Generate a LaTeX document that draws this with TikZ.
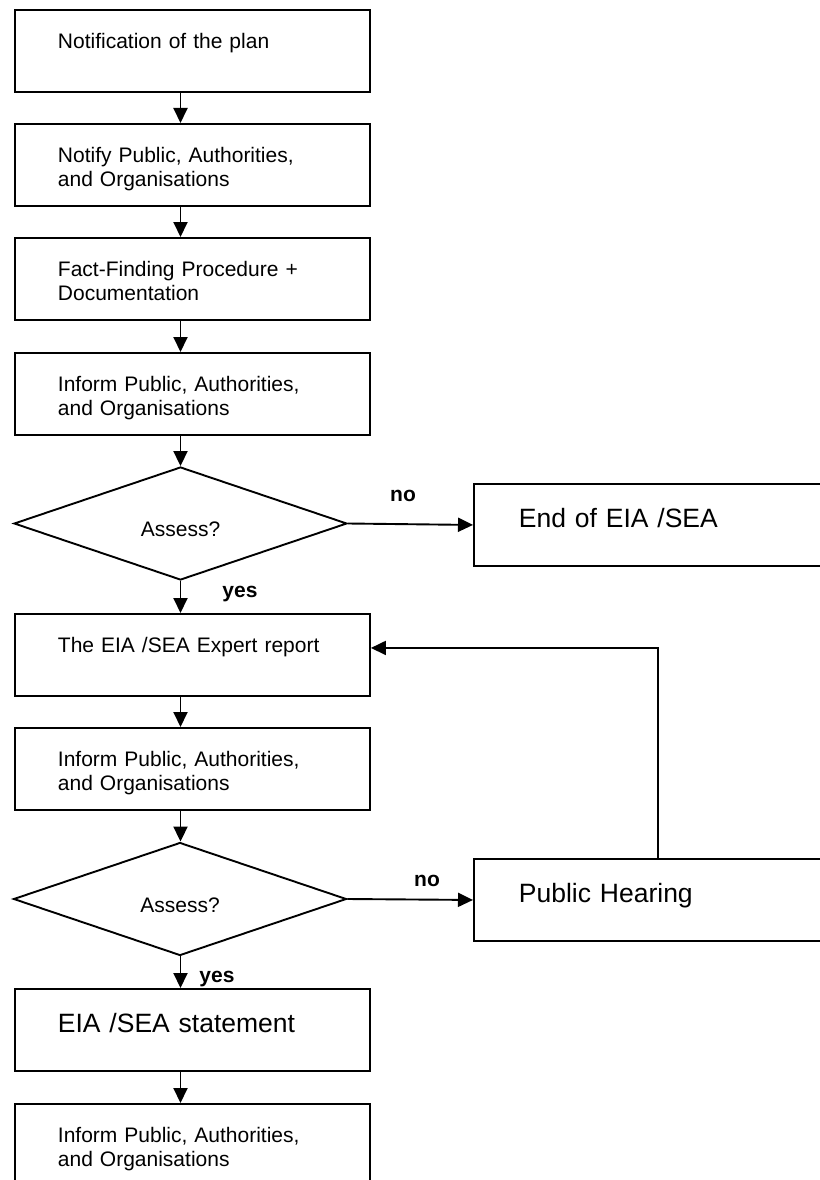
\documentclass[tikz,border=0pt]{standalone}
\usepackage{fontspec}
\setmainfont{Liberation Sans}
\usetikzlibrary{arrows.meta, shapes.geometric, calc}

\begin{document}
\begin{tikzpicture}[
    x=1pt, y=-1pt, line width=1.9pt,
    >={Triangle[length=15pt, width=14pt]},
    stepbox/.style={draw, fill=white, anchor=north west, align=left,
                    inner xsep=43pt, inner ysep=0pt, text width=269pt,
                    text height=38.5pt, text depth=43.5pt,
                    font=\fontsize{21}{24}\selectfont},
    bigtext/.style={font=\fontsize{26.5}{30}\selectfont,
                    text height=44pt, text depth=38pt},
    sidebox/.style={stepbox, bigtext, inner xsep=45pt, text width=270pt},
    decision/.style={diamond, draw, fill=white, aspect=3, inner sep=0pt,
                     minimum width=333pt, minimum height=113pt,
                     text height=26pt, text depth=0pt,
                     font=\fontsize{21}{24}\selectfont},
    lbl/.style={anchor=base, font=\fontsize{21}{24}\selectfont\bfseries}
  ]
  \useasboundingbox (0,0) rectangle (819,1180);

  % Main column
  \node[stepbox] (n1) at (14,9) {Notification of the plan};
  \node[stepbox] (n2) at (14,123) {Notify Public, Authorities,\\and Organisations};
  \node[stepbox] (n3) at (14,237) {Fact-Finding Procedure +\\Documentation};
  \node[stepbox] (n4) at (14,352) {Inform Public, Authorities,\\and Organisations};
  \node[decision] (d1) at (180.5,523.5) {Assess?};
  \node[lbl] (no1) at (403,501.7) {no};
  \node[sidebox] (stop) at (473,483) {End of EIA /SEA};
  \node[lbl] (yes1) at (240,597) {yes};
  \node[stepbox] (n5) at (14,613) {The EIA /SEA Expert report};
  \node[stepbox] (n6) at (14,727) {Inform Public, Authorities,\\and Organisations};
  \node[decision] (d2) at (180,899) {Assess?};
  \node[lbl] (no2) at (427,886.7) {no};
  \node[sidebox] (hear) at (473,858) {Public Hearing};
  \node[lbl] (yes2) at (217,982) {yes};
  \node[stepbox, bigtext] (n7) at (14,988) {EIA /SEA statement};
  \node[stepbox] (n8) at (14,1103) {Inform Public, Authorities,\\and Organisations};

  % Arrows
  \foreach \a/\b in {n1/n2, n2/n3, n3/n4, n4/d1, d1/n5, n5/n6, n6/d2, d2/n7, n7/n8}
    \draw[->] (\a.south -| d1.north) -- (\b.north -| d1.north);
  \draw[->] (d1.east) -- (stop.west);
  \draw[->] (d2.east) -- (hear.west);
  \draw[->] ($(hear.north west)+(185,0)$) |- ([yshift=7pt]n5.east);
\end{tikzpicture}
\end{document}
